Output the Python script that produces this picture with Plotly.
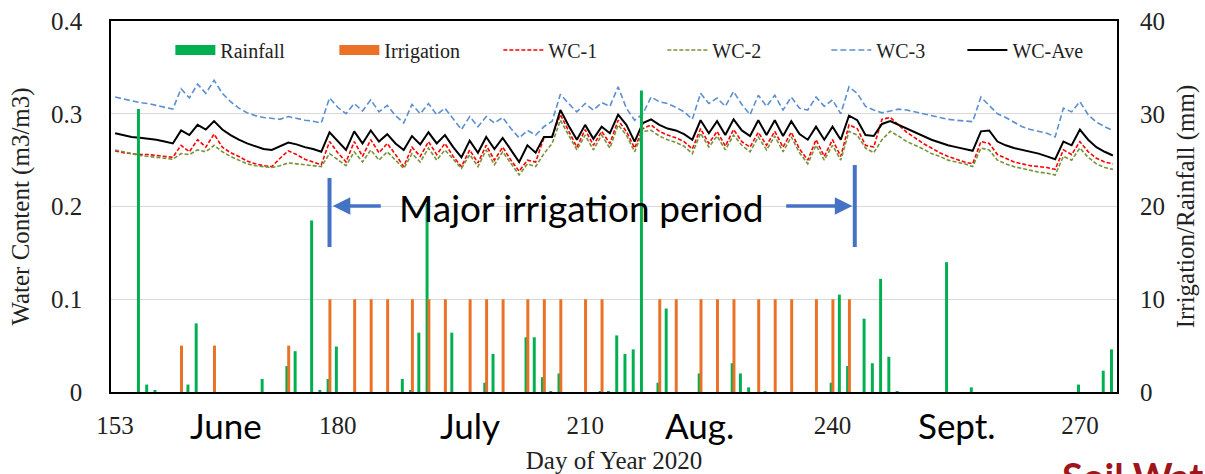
import plotly.graph_objects as go

# ---- data -------------------------------------------------------------
days = list(range(153, 275))

rain_days = [156, 157, 158, 162, 163, 171, 174, 175, 177, 178, 179, 180, 188, 189, 190, 191,
             194, 198, 199, 203, 204, 205, 206, 207, 212, 213, 214, 215, 216, 217, 219, 220,
             224, 228, 229, 230, 232, 240, 241, 242, 244, 245, 246, 247, 248, 254, 257, 270,
             273, 274]
rain_mm = [30.5, 0.8, 0.2, 0.8, 7.4, 1.4, 2.8, 4.4, 18.5, 0.2, 1.4, 4.9, 1.4, 0.2, 6.4, 20.3,
           6.4, 1.0, 4.1, 5.9, 5.9, 1.6, 0.1, 2.0, 0.1, 0.1, 6.1, 4.1, 4.6, 32.5, 1.0, 9.0,
           2.0, 3.1, 2.0, 0.5, 0.1, 1.0, 10.5, 2.8, 7.9, 3.1, 12.2, 3.8, 0.1, 14.0, 0.5, 0.8,
           2.3, 4.6]

irr_days = [161, 165, 174, 179, 182, 184, 186, 189, 191, 193, 196, 198, 200, 203, 205, 207,
            210, 212, 219, 221, 224, 226, 228, 231, 233, 235, 238, 240, 242]
irr_mm = [5, 5, 5, 10, 10, 10, 10, 10, 10, 10, 10, 10, 10, 10, 10, 10,
          10, 10, 10, 10, 10, 10, 10, 10, 10, 10, 10, 10, 10]

wc_1 = [0.260, 0.258, 0.257, 0.256, 0.256, 0.255, 0.254, 0.253, 0.266, 0.259,
        0.272, 0.264, 0.278, 0.264, 0.258, 0.254, 0.249, 0.246, 0.244, 0.243,
        0.252, 0.260, 0.256, 0.251, 0.248, 0.245, 0.270, 0.258, 0.248, 0.270,
        0.254, 0.272, 0.258, 0.268, 0.256, 0.243, 0.264, 0.254, 0.270, 0.256,
        0.268, 0.254, 0.243, 0.261, 0.247, 0.266, 0.250, 0.264, 0.250, 0.238,
        0.250, 0.248, 0.274, 0.276, 0.299, 0.281, 0.264, 0.283, 0.266, 0.281,
        0.268, 0.293, 0.281, 0.263, 0.284, 0.288, 0.281, 0.277, 0.274, 0.270,
        0.262, 0.284, 0.268, 0.281, 0.265, 0.283, 0.270, 0.264, 0.280, 0.266,
        0.281, 0.264, 0.280, 0.262, 0.250, 0.272, 0.254, 0.272, 0.254, 0.288,
        0.284, 0.266, 0.264, 0.294, 0.296, 0.288, 0.280, 0.274, 0.268, 0.263,
        0.258, 0.254, 0.251, 0.248, 0.246, 0.270, 0.268, 0.256, 0.252, 0.248,
        0.246, 0.244, 0.243, 0.242, 0.240, 0.261, 0.256, 0.270, 0.259, 0.252,
        0.248, 0.246]

wc_2 = [0.261, 0.259, 0.257, 0.255, 0.254, 0.253, 0.252, 0.251, 0.257, 0.256,
        0.261, 0.259, 0.266, 0.259, 0.254, 0.250, 0.246, 0.244, 0.243, 0.242,
        0.244, 0.247, 0.246, 0.245, 0.244, 0.243, 0.257, 0.250, 0.244, 0.259,
        0.248, 0.261, 0.250, 0.259, 0.250, 0.241, 0.257, 0.248, 0.263, 0.250,
        0.261, 0.251, 0.241, 0.256, 0.243, 0.261, 0.245, 0.259, 0.246, 0.234,
        0.246, 0.243, 0.257, 0.268, 0.293, 0.277, 0.261, 0.277, 0.261, 0.277,
        0.263, 0.288, 0.277, 0.259, 0.281, 0.282, 0.276, 0.272, 0.269, 0.265,
        0.257, 0.279, 0.264, 0.276, 0.261, 0.277, 0.266, 0.259, 0.275, 0.261,
        0.276, 0.259, 0.275, 0.258, 0.246, 0.266, 0.250, 0.266, 0.250, 0.281,
        0.277, 0.263, 0.258, 0.272, 0.281, 0.276, 0.270, 0.266, 0.262, 0.257,
        0.254, 0.250, 0.248, 0.246, 0.243, 0.263, 0.261, 0.250, 0.246, 0.243,
        0.241, 0.239, 0.237, 0.236, 0.234, 0.254, 0.250, 0.263, 0.253, 0.246,
        0.242, 0.240]

wc_3 = [0.318, 0.316, 0.314, 0.312, 0.311, 0.309, 0.307, 0.305, 0.327, 0.317,
        0.332, 0.322, 0.336, 0.322, 0.313, 0.306, 0.301, 0.298, 0.296, 0.295,
        0.294, 0.297, 0.295, 0.293, 0.292, 0.290, 0.317, 0.307, 0.300, 0.311,
        0.303, 0.315, 0.302, 0.309, 0.298, 0.290, 0.310, 0.300, 0.311, 0.299,
        0.306, 0.294, 0.283, 0.297, 0.286, 0.297, 0.290, 0.296, 0.284, 0.274,
        0.282, 0.277, 0.286, 0.292, 0.321, 0.311, 0.302, 0.311, 0.304, 0.312,
        0.308, 0.329, 0.306, 0.293, 0.300, 0.318, 0.313, 0.311, 0.307, 0.302,
        0.294, 0.322, 0.311, 0.317, 0.308, 0.324, 0.310, 0.299, 0.320, 0.308,
        0.320, 0.304, 0.318, 0.306, 0.304, 0.318, 0.308, 0.315, 0.300, 0.329,
        0.322, 0.308, 0.304, 0.301, 0.303, 0.305, 0.304, 0.302, 0.300, 0.298,
        0.296, 0.294, 0.293, 0.292, 0.2915, 0.318, 0.309, 0.300, 0.296, 0.291,
        0.286, 0.283, 0.281, 0.279, 0.275, 0.306, 0.302, 0.313, 0.299, 0.291,
        0.286, 0.282]

wc_ave = [0.279, 0.277, 0.275, 0.274, 0.273, 0.272, 0.270, 0.268, 0.282, 0.277,
          0.288, 0.283, 0.292, 0.283, 0.277, 0.272, 0.268, 0.265, 0.262, 0.261,
          0.265, 0.269, 0.267, 0.264, 0.262, 0.259, 0.280, 0.270, 0.261, 0.281,
          0.268, 0.282, 0.270, 0.278, 0.268, 0.261, 0.276, 0.267, 0.280, 0.268,
          0.277, 0.264, 0.253, 0.271, 0.258, 0.275, 0.262, 0.274, 0.261, 0.248,
          0.266, 0.258, 0.275, 0.275, 0.304, 0.287, 0.272, 0.288, 0.273, 0.286,
          0.279, 0.299, 0.288, 0.270, 0.290, 0.294, 0.288, 0.284, 0.282, 0.278,
          0.272, 0.293, 0.279, 0.292, 0.277, 0.294, 0.282, 0.276, 0.293, 0.277,
          0.293, 0.276, 0.292, 0.278, 0.272, 0.286, 0.272, 0.286, 0.272, 0.298,
          0.293, 0.277, 0.276, 0.289, 0.292, 0.288, 0.284, 0.280, 0.276, 0.272,
          0.269, 0.266, 0.264, 0.262, 0.260, 0.281, 0.282, 0.270, 0.266, 0.263,
          0.261, 0.259, 0.257, 0.254, 0.251, 0.270, 0.266, 0.283, 0.272, 0.264,
          0.259, 0.255]

x_ticks = [153, 180, 210, 240, 270]
months = ["June", "July", "Aug.", "Sept."]
month_pos = [166.4, 196.0, 223.9, 255.1]

# ---- styling ----------------------------------------------------------
GREEN = "#00B050"
ORANGE = "#EA7125"
RED = "#FF0000"
OLIVE = "#77933C"
BLUE = "#5B8FD0"
ARROW = "#4472C4"
SERIF = "Liberation Serif, Times New Roman, serif"
SANS = "Lato, Open Sans, sans-serif"
LEGEND_FONT = dict(family=SERIF, size=20, color="#222")

fig = go.Figure()

# legend proxies for the two bar series (thick swatches)
fig.add_trace(go.Scatter(x=[None], y=[None], mode="lines", name="Rainfall",
                         line=dict(color=GREEN, width=10)))
fig.add_trace(go.Scatter(x=[None], y=[None], mode="lines", name="Irrigation",
                         line=dict(color=ORANGE, width=10)))

# water content lines on the left axis
fig.add_trace(go.Scatter(x=days, y=wc_1, mode="lines", name="WC-1",
                         line=dict(color=RED, width=1.6, dash="4px,2px")))
fig.add_trace(go.Scatter(x=days, y=wc_2, mode="lines", name="WC-2",
                         line=dict(color=OLIVE, width=1.6, dash="4px,2px")))
fig.add_trace(go.Scatter(x=days, y=wc_3, mode="lines", name="WC-3",
                         line=dict(color=BLUE, width=1.6, dash="6px,3px")))
fig.add_trace(go.Scatter(x=days, y=wc_ave, mode="lines", name="WC-Ave", legend="legend2",
                         line=dict(color="black", width=2)))

# rainfall / irrigation columns on the right axis
fig.add_trace(go.Bar(x=rain_days, y=rain_mm, yaxis="y2", name="Rainfall",
                     marker=dict(color=GREEN, line=dict(width=0)),
                     width=0.36, offset=-0.35, showlegend=False))
fig.add_trace(go.Bar(x=irr_days, y=irr_mm, yaxis="y2", name="Irrigation",
                     marker=dict(color=ORANGE, line=dict(width=0)),
                     width=0.36, offset=-0.13, showlegend=False))

annotations = []
for m, p in zip(months, month_pos):
    annotations.append(dict(x=p, y=-0.089, xref="x", yref="paper", text=m,
                            showarrow=False, xanchor="center", yanchor="middle",
                            font=dict(family=SANS, size=35, color="black")))

annotations.append(dict(x=209.6, y=0.199, xref="x", yref="y", text="Major irrigation period",
                        showarrow=False, xanchor="center", yanchor="middle",
                        font=dict(family=SANS, size=37, color="black")))
# arrows pointing to the period limits
annotations.append(dict(x=179.4, y=0.2005, xref="x", yref="y", ax=185.4, ay=0.2005,
                        axref="x", ayref="y", text="", showarrow=True, arrowhead=2,
                        arrowsize=1, arrowwidth=3.5, arrowcolor=ARROW))
annotations.append(dict(x=242.4, y=0.2005, xref="x", yref="y", ax=234.2, ay=0.2005,
                        axref="x", ayref="y", text="", showarrow=True, arrowhead=2,
                        arrowsize=1, arrowwidth=3.5, arrowcolor=ARROW))
annotations.append(dict(x=0.9433, y=-0.159, xref="paper", yref="paper", text="<b>Soil Water Content</b>",
                        showarrow=False, xanchor="left", yanchor="top",
                        font=dict(family=SANS, size=38, color="#A0141B")))

shapes = [
    dict(type="line", xref="x", yref="y", x0=179.0, x1=179.0, y0=0.1563, y1=0.2307,
         line=dict(color=ARROW, width=4)),
    dict(type="line", xref="x", yref="y", x0=242.7, x1=242.7, y0=0.1563, y1=0.2447,
         line=dict(color=ARROW, width=4)),
]

fig.update_layout(
    width=1205, height=474, autosize=False,
    paper_bgcolor="white", plot_bgcolor="white",
    margin=dict(l=111, r=88, t=21, b=82, autoexpand=False),
    barmode="overlay",
    showlegend=True,
    legend=dict(orientation="h", x=0.059, y=0.922, xanchor="left", yanchor="middle",
                font=LEGEND_FONT, bgcolor="rgba(0,0,0,0)",
                entrywidth=109, entrywidthmode="pixels", itemwidth=40),
    legend2=dict(orientation="h", x=0.8463, y=0.922, xanchor="left", yanchor="middle",
                 font=LEGEND_FONT, bgcolor="rgba(0,0,0,0)", itemwidth=40),
    xaxis=dict(range=[152.5, 274.5], tickmode="array", tickvals=x_ticks,
               ticktext=[str(v) for v in x_ticks], showgrid=False, zeroline=False,
               showline=True, linecolor="black", linewidth=2, mirror=True, ticks="",
               ticklabelstandoff=10,
               tickfont=dict(family=SERIF, size=25, color="#222"),
               title=dict(text="Day of Year 2020", standoff=14,
                          font=dict(family=SERIF, size=25, color="#222"))),
    yaxis=dict(range=[0, 0.4], tickvals=[0, 0.1, 0.2, 0.3, 0.4],
               ticktext=["0", "0.1", "0.2", "0.3", "0.4"],
               showgrid=True, gridcolor="#D9D9D9", gridwidth=1, zeroline=False,
               showline=True, linecolor="black", linewidth=1.5, mirror=True, ticks="",
               ticklabelstandoff=22,
               tickfont=dict(family=SERIF, size=25, color="#222"),
               title=dict(text="Water Content (m3/m3)", standoff=14,
                          font=dict(family=SERIF, size=25, color="#222"))),
    yaxis2=dict(range=[0, 40], tickvals=[0, 10, 20, 30, 40], overlaying="y", side="right",
                showgrid=False, zeroline=False, showline=False, ticks="",
                ticklabelstandoff=22,
                tickfont=dict(family=SERIF, size=25, color="#222"),
                title=dict(text="Irrigation/Rainfall (mm)", standoff=12,
                           font=dict(family=SERIF, size=25, color="#222"))),
    annotations=annotations,
    shapes=shapes,
)

fig.write_html("out.html")
